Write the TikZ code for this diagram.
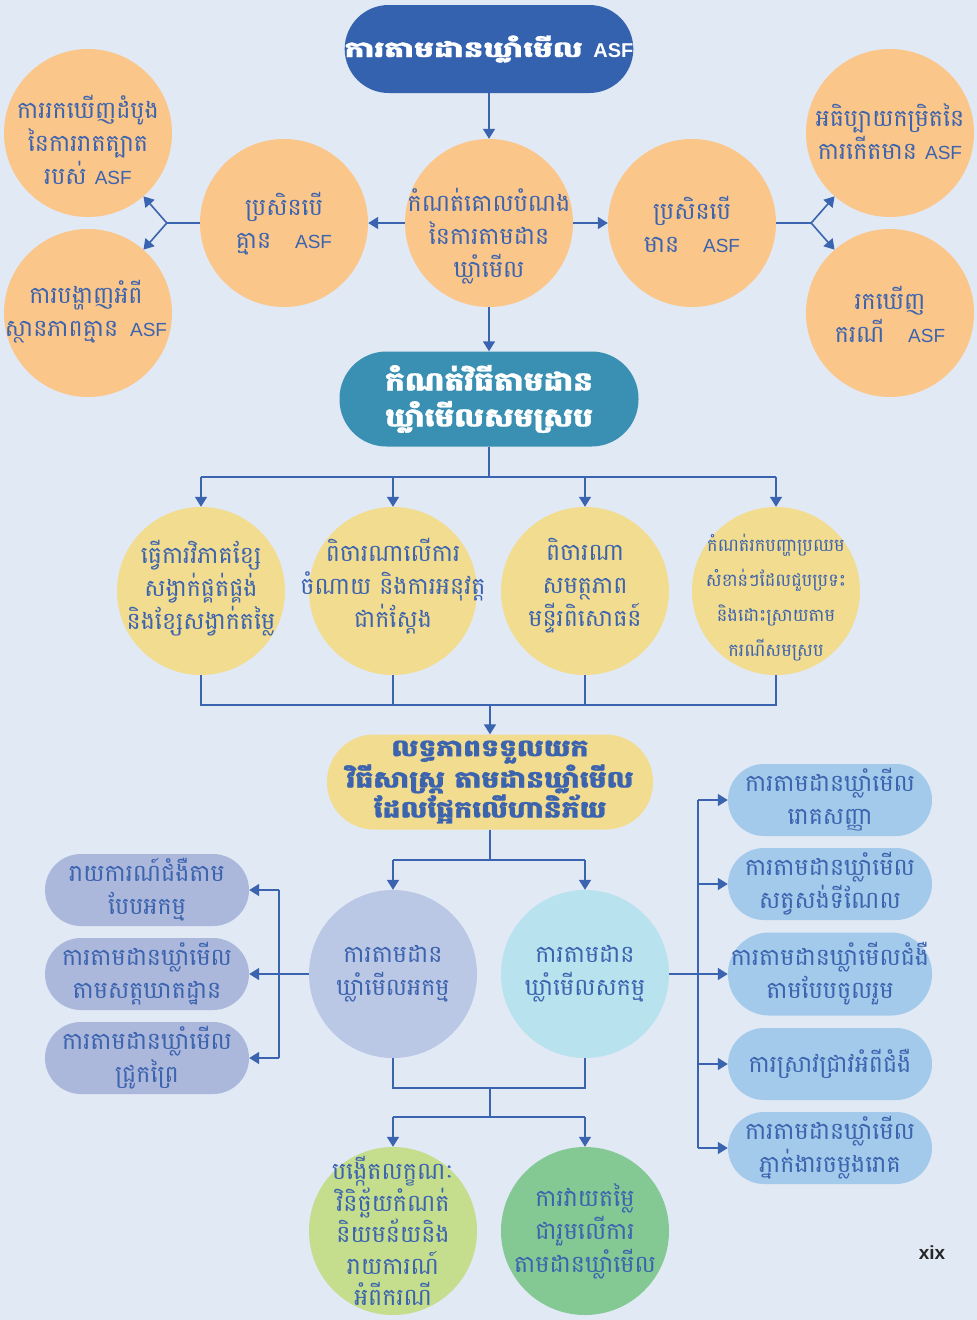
\documentclass[tikz,border=0pt]{standalone}
\usepackage{fontspec}
\usetikzlibrary{arrows.meta}
\newfontfamily\kh[Script=Khmer,Scale=1.25]{Battambang}
\newfontfamily\khb[Script=Khmer,FakeStretch=1.2,FakeBold=1.2]{Battambang}
\newfontfamily\khw[Script=Khmer,FakeStretch=1.42,FakeBold=1.4]{Battambang}
\newfontfamily\lat{Liberation Sans}
\newcommand{\ASF}{{\lat ASF}}
\definecolor{bg}{HTML}{E1E9F5}
\definecolor{tblue}{HTML}{3C63AE}
\definecolor{lblue}{HTML}{3A63B0}
\definecolor{topc}{HTML}{3462AE}
\definecolor{orng}{HTML}{FBC68A}
\definecolor{teal}{HTML}{3A90B3}
\definecolor{yelw}{HTML}{F2DC90}
\definecolor{lbox}{HTML}{ABB8DC}
\definecolor{akc}{HTML}{BBC8E5}
\definecolor{sakc}{HTML}{B8E2EE}
\definecolor{rbox}{HTML}{A3C9EB}
\definecolor{lgrn}{HTML}{C5DE8E}
\definecolor{dgrn}{HTML}{84C894}
\begin{document}
\begin{tikzpicture}[x=1pt,y=-1pt,
  txt/.style={font=\kh\fontsize{19}{33}\selectfont, text=tblue, align=center, inner sep=0pt},
  btxt/.style={align=center, inner sep=0pt},
  circ/.style={circle, minimum size=168pt, inner sep=0pt},
  box/.style={rectangle, rounded corners=36pt, minimum width=204pt, minimum height=72pt, txt},
  ln/.style={draw=lblue, line width=1.6pt},
  arr/.style={ln, -{Triangle[length=10pt,width=12pt]}}]
\fill[bg] (0,0) rectangle (977,1320);
\useasboundingbox (0,0) rectangle (977,1320);
% top
\node[btxt, fill=topc, text=white, rounded corners=44pt, minimum width=288pt, minimum height=88pt, font=\khw\bfseries\fontsize{22}{30}\selectfont] (top) at (489,49) {ការតាមដានឃ្លាំមើល {\lat\bfseries\fontsize{20}{22}\selectfont ASF}};
\node[circ, fill=orng] (goal) at (489,223) {};
\node[txt] (goal-t) at (489,236) {កំណត់គោលបំណង\\នៃការតាមដាន\\ឃ្លាំមើល};
\node[circ, fill=orng] (no) at (284,223) {};
\node[txt] (no-t) at (284,224) {ប្រសិនបើ\\គ្មាន\quad\ASF};
\node[circ, fill=orng] (yes) at (692,223) {};
\node[txt] (yes-t) at (692,224) {ប្រសិនបើ\\មាន\quad\ASF};
\node[circ, fill=orng] (fl1) at (88,133) {};
\node[txt] (fl1-t) at (88,140) {ការរកឃើញដំបូង\\នៃការរាតត្បាត\\របស់ \ASF};
\node[circ, fill=orng] (fl2) at (88,313) {};
\node[txt] (fl2-t) at (86,312) {ការបង្ហាញអំពី\\ស្ថានភាពគ្មាន\enspace\ASF};
\node[circ, fill=orng] (fr1) at (890,133) {};
\node[txt] (fr1-t) at (890,132) {អធិប្បាយកម្រិតនៃ\\ការកើតមាន \ASF};
\node[circ, fill=orng] (fr2) at (890,313) {};
\node[txt] (fr2-t) at (890,314) {រកឃើញ\\ករណី\quad\ASF};
\draw[arr] (top) -- (goal);
\draw[arr] (goal) -- (no);
\draw[arr] (goal) -- (yes);
\draw[ln] (no.west) -- ++(-33,0) coordinate (bl);
\draw[arr] (bl) -- (fl1);
\draw[arr] (bl) -- (fl2);
\draw[ln] (yes.east) -- ++(35,0) coordinate (br);
\draw[arr] (br) -- (fr1);
\draw[arr] (br) -- (fr2);
% method
\node[btxt, fill=teal, text=white, rounded corners=47pt, minimum width=299pt, minimum height=95pt, font=\khb\bfseries\fontsize{26}{36}\selectfont] (method) at (489,399) {កំណត់វិធីតាមដាន\\ឃ្លាំមើលសមស្រប};
\draw[arr] (goal) -- (method);
\node[circ, fill=yelw] (y1) at (201,591) {};
\node[txt] (y1-t) at (201,588) {ធ្វើការវិភាគខ្សែ\\សង្វាក់ផ្គត់ផ្គង់\\និងខ្សែសង្វាក់តម្លៃ};
\node[circ, fill=yelw] (y2) at (393,591) {};
\node[txt] (y2-t) at (393,586) {ពិចារណាលើការ\\ចំណាយ និងការអនុវត្ត\\ជាក់ស្តែង};
\node[circ, fill=yelw] (y3) at (585,591) {};
\node[txt] (y3-t) at (585,586) {ពិចារណា\\សមត្ថភាព\\មន្ទីរពិសោធន៍};
\node[circ, fill=yelw] (y4) at (776,591) {};
\node[txt, font=\kh\fontsize{14.2}{35}\selectfont] (y4-t) at (776,598) {កំណត់រកបញ្ហាប្រឈម\\សំខាន់ៗដែលជួបប្រទះ\\និងដោះស្រាយតាម\\ករណីសមស្រប};
\path (method.south) ++(0,30) coordinate (j1);
\draw[ln] (method.south) -- (j1);
\draw[ln] (y1.north |- j1) -- (y4.north |- j1);
\foreach \n in {y1,y2,y3,y4} \draw[arr] (\n.north |- j1) -- (\n.north);
% risk
\node[btxt, fill=yelw, text=tblue, rounded corners=47pt, minimum width=326pt, minimum height=95pt, font=\khb\bfseries\fontsize{23.5}{30}\selectfont] (risk) at (490,782) {លទ្ធភាពទទួលយក\\វិធីសាស្ត្រ តាមដានឃ្លាំមើល\\ដែលផ្អែកលើហានិភ័យ};
\path (y1.south) ++(0,30) coordinate (j2);
\draw[ln] (y1.south) -- (j2) -- (y4.south |- j2) -- (y4.south);
\draw[ln] (y2.south) -- (y2.south |- j2);
\draw[ln] (y3.south) -- (y3.south |- j2);
\draw[arr] (risk.north |- j2) -- (risk.north);
% passive / active
\node[circ, fill=akc] (ak) at (393,974) {};
\node[txt] (ak-t) at (393,974) {ការតាមដាន\\ឃ្លាំមើលអកម្ម};
\node[circ, fill=sakc] (sak) at (585,974) {};
\node[txt] (sak-t) at (585,974) {ការតាមដាន\\ឃ្លាំមើលសកម្ម};
\path (risk.south) ++(0,30) coordinate (j3);
\draw[ln] (risk.south) -- (j3);
\draw[ln] (ak.north |- j3) -- (sak.north |- j3);
\draw[arr] (ak.north |- j3) -- (ak.north);
\draw[arr] (sak.north |- j3) -- (sak.north);
% left boxes
\node[box, fill=lbox] (l1) at (147,890) {រាយការណ៍ជំងឺតាម\\បែបអកម្ម};
\node[box, fill=lbox] (l2) at (147,974) {ការតាមដានឃ្លាំមើល\\តាមសត្តឃាតដ្ឋាន};
\node[box, fill=lbox] (l3) at (147,1058) {ការតាមដានឃ្លាំមើល\\ជ្រូកព្រៃ};
\draw[ln] (ak.west) -- ++(-30,0) coordinate (j4);
\draw[ln] (j4 |- l1.east) -- (j4 |- l3.east);
\foreach \n in {l1,l2,l3} \draw[arr] (j4 |- \n.east) -- (\n.east);
% right boxes
\node[box, fill=rbox] (r1) at (830,800) {ការតាមដានឃ្លាំមើល\\រោគសញ្ញា};
\node[box, fill=rbox] (r2) at (830,884) {ការតាមដានឃ្លាំមើល\\សត្វសង់ទីណែល};
\node[box, fill=rbox, minimum height=83pt, rounded corners=41pt] (r3) at (830,974) {ការតាមដានឃ្លាំមើលជំងឺ\\តាមបែបចូលរួម};
\node[box, fill=rbox] (r4) at (830,1064) {ការស្រាវជ្រាវអំពីជំងឺ};
\node[box, fill=rbox] (r5) at (830,1148) {ការតាមដានឃ្លាំមើល\\ភ្នាក់ងារចម្លងរោគ};
\draw[ln] (sak.east) -- ++(29,0) coordinate (j5);
\draw[ln] (j5 |- r1.west) -- (j5 |- r5.west);
\foreach \n in {r1,r2,r3,r4,r5} \draw[arr] (j5 |- \n.west) -- (\n.west);
% bottom
\node[circ, fill=lgrn] (b1) at (393,1231) {};
\node[txt, font=\kh\fontsize{19}{31.5}\selectfont] (b1-t) at (393,1231) {បង្កើតលក្ខណៈ\\វិនិច្ឆ័យកំណត់\\និយមន័យនិង\\រាយការណ៍\\អំពីករណី};
\node[circ, fill=dgrn] (b2) at (585,1231) {};
\node[txt] (b2-t) at (585,1231) {ការវាយតម្លៃ\\ជារួមលើការ\\តាមដានឃ្លាំមើល};
\path (ak.south) ++(0,30) coordinate (j6);
\draw[ln] (ak.south) -- (j6) -- (sak.south |- j6) -- (sak.south);
\path (j6 -| risk.south) coordinate (j6m);
\draw[ln] (j6m) -- ++(0,29) coordinate (j7);
\draw[ln] (j7 -| b1.north) -- (j7 -| b2.north);
\draw[arr] (j7 -| b1.north) -- (b1.north);
\draw[arr] (j7 -| b2.north) -- (b2.north);
\node[font=\lat\bfseries\fontsize{19}{22}\selectfont, text=black!85, inner sep=0pt] (pg) at (932,1253) {xix};
\end{tikzpicture}
\end{document}
